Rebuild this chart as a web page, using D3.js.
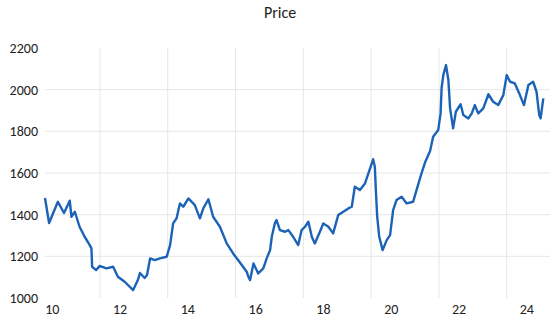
<!DOCTYPE html>
<html>
<head>
<meta charset="utf-8">
<script src="https://cdn.jsdelivr.net/npm/d3@7"></script>
<style>
  body { margin: 0; background: #fff; }
  text { font-family: Carlito, Calibri, 'Noto Sans', sans-serif; fill: #222; }
</style>
</head>
<body>
<svg width="550" height="325"></svg>
<script>
var title = 'Price';

// decimal year of each reading
var years = [
  2010.00, 2010.12, 2010.38, 2010.56, 2010.73, 2010.78, 2010.88, 2011.02, 2011.17, 2011.32,
  2011.37, 2011.39, 2011.51, 2011.61, 2011.81, 2012.01, 2012.15, 2012.35, 2012.60, 2012.74,
  2012.80, 2012.94, 2013.01, 2013.10, 2013.24, 2013.39, 2013.59, 2013.69, 2013.78, 2013.88,
  2013.98, 2014.08, 2014.23, 2014.42, 2014.57, 2014.67, 2014.82, 2014.96, 2015.16, 2015.36,
  2015.55, 2015.75, 2015.95, 2016.00, 2016.05, 2016.15, 2016.29, 2016.44, 2016.54, 2016.64,
  2016.69, 2016.78, 2016.83, 2016.93, 2017.08, 2017.18, 2017.32, 2017.47, 2017.57, 2017.67,
  2017.77, 2017.87, 2017.96, 2018.11, 2018.21, 2018.36, 2018.50, 2018.65, 2018.80, 2018.95,
  2019.05, 2019.14, 2019.29, 2019.44, 2019.54, 2019.64, 2019.68, 2019.73, 2019.76, 2019.80,
  2019.86, 2019.96, 2020.08, 2020.18, 2020.27, 2020.37, 2020.52, 2020.67, 2020.86, 2020.96,
  2021.11, 2021.21, 2021.36, 2021.45, 2021.60, 2021.67, 2021.70, 2021.75, 2021.83, 2021.90,
  2021.95, 2022.04, 2022.12, 2022.26, 2022.34, 2022.49, 2022.59, 2022.68, 2022.78, 2022.93,
  2023.08, 2023.22, 2023.37, 2023.52, 2023.62, 2023.72, 2023.86, 2024.01, 2024.13, 2024.26,
  2024.40, 2024.50, 2024.58, 2024.62, 2024.70
];

var prices = [
  1480, 1360, 1462, 1408, 1467, 1390, 1414, 1342, 1294, 1254,
  1238, 1150, 1134, 1154, 1142, 1150, 1102, 1078, 1038, 1086,
  1120, 1096, 1110, 1190, 1182, 1190, 1198, 1254, 1358, 1382,
  1454, 1438, 1478, 1446, 1382, 1430, 1474, 1390, 1342, 1262,
  1214, 1170, 1126, 1102, 1086, 1166, 1118, 1142, 1190, 1230,
  1294, 1358, 1374, 1326, 1318, 1326, 1294, 1254, 1326, 1342,
  1366, 1294, 1262, 1318, 1358, 1342, 1310, 1398, 1414, 1430,
  1438, 1534, 1518, 1550, 1598, 1646, 1666, 1630, 1518, 1390,
  1294, 1230, 1278, 1302, 1422, 1470, 1486, 1454, 1462, 1518,
  1600, 1650, 1706, 1774, 1806, 1886, 2008, 2070, 2118, 2046,
  1910, 1814, 1894, 1930, 1878, 1862, 1886, 1926, 1886, 1910,
  1978, 1942, 1926, 1974, 2070, 2038, 2030, 1974, 1926, 2022,
  2038, 1990, 1878, 1862, 1958
];

var yTicks = [1000, 1200, 1400, 1600, 1800, 2000, 2200];
var xTickYears = [2010, 2012, 2014, 2016, 2018, 2020, 2022, 2024];
var xTickLabels = ['10', '12', '14', '16', '18', '20', '22', '24'];

var svg = d3.select('svg');

var x = d3.scaleLinear().domain([2010, 2024.75]).range([45, 545]);
var y = d3.scaleLinear().domain([1000, 2200]).range([298, 48]);

// horizontal grid
svg
  .append('g')
  .selectAll('line')
  .data(yTicks.slice(1, -1))
  .enter()
  .append('line')
  .attr('x1', 45)
  .attr('x2', 550)
  .attr('y1', (d) => y(d))
  .attr('y2', (d) => y(d))
  .attr('stroke', '#e6e6e6')
  .attr('stroke-width', 1);

// vertical grid sits between the year labels
svg
  .append('g')
  .selectAll('line')
  .data(xTickYears.slice(0, -1))
  .enter()
  .append('line')
  .attr('x1', (d) => x(d + 1.62))
  .attr('x2', (d) => x(d + 1.62))
  .attr('y1', y(2200))
  .attr('y2', y(1000))
  .attr('stroke', '#e6e6e6')
  .attr('stroke-width', 1);

var yAxis = svg
  .append('g')
  .attr('transform', 'translate(38,0)')
  .call(d3.axisLeft(y).tickValues(yTicks).tickSize(0).tickPadding(0).tickFormat(d3.format('d')));
yAxis.select('.domain').remove();
yAxis.selectAll('text').style('font-size', '14px').style('fill', '#222');

var xAxis = svg
  .append('g')
  .attr('transform', 'translate(0,302)')
  .call(
    d3
      .axisBottom(x)
      .tickValues(xTickYears.map((d) => d + 0.2))
      .tickSize(0)
      .tickPadding(2)
      .tickFormat((d, i) => xTickLabels[i])
  );
xAxis.select('.domain').remove();
xAxis.selectAll('text').style('font-size', '14px').style('fill', '#222');

svg
  .append('text')
  .attr('x', 280)
  .attr('y', 18)
  .attr('text-anchor', 'middle')
  .style('font-size', '16px')
  .text(title);

var line = d3
  .line()
  .x((d, i) => x(years[i]))
  .y((d) => y(d));

svg
  .append('path')
  .datum(prices)
  .attr('d', line)
  .attr('fill', 'none')
  .attr('stroke', '#1c63b7')
  .attr('stroke-width', 2.4)
  .attr('stroke-linejoin', 'round');
</script>
</body>
</html>
